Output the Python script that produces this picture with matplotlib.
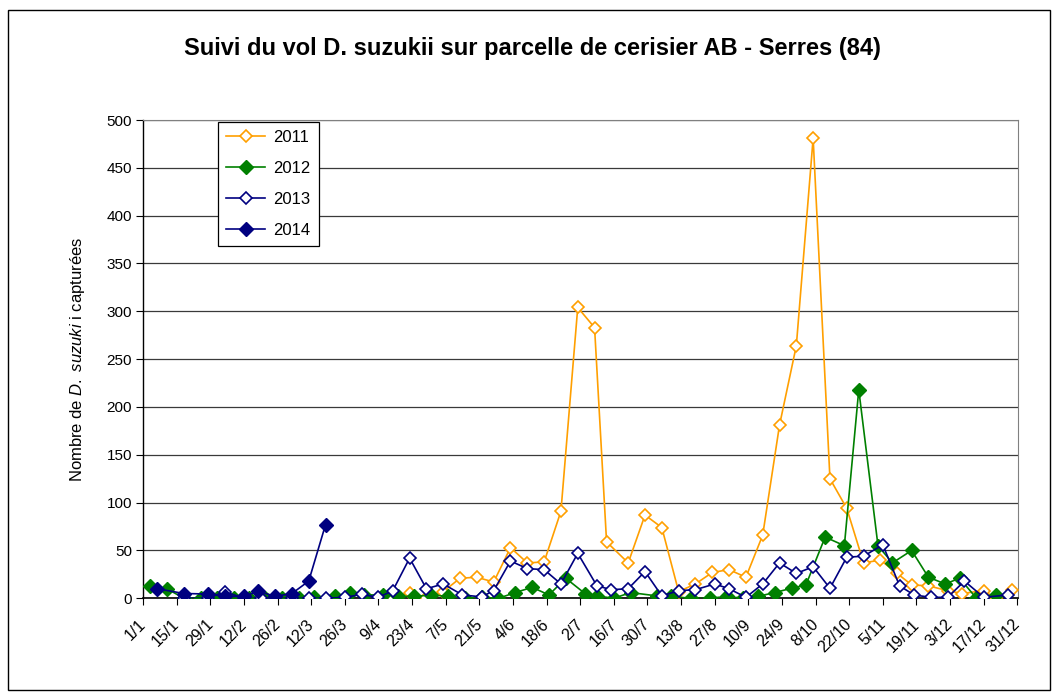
import matplotlib
matplotlib.use("Agg")
import matplotlib.pyplot as plt
from matplotlib.patches import Rectangle
from matplotlib.transforms import ScaledTranslation

plt.rcParams['font.family'] = ['Liberation Sans', 'DejaVu Sans']
plt.rcParams['mathtext.fontset'] = 'custom'
plt.rcParams['mathtext.rm'] = 'Liberation Sans'
plt.rcParams['mathtext.it'] = 'Liberation Sans:italic'

# x = days since 1 January
tick_labels = ["1/1", "15/1", "29/1", "12/2", "26/2", "12/3", "26/3", "9/4", "23/4",
               "7/5", "21/5", "4/6", "18/6", "2/7", "16/7", "30/7", "13/8", "27/8",
               "10/9", "24/9", "8/10", "22/10", "5/11", "19/11", "3/12", "17/12", "31/12"]
tick_days = [14 * i for i in range(len(tick_labels))]

days_2011 = [104, 111, 118, 125, 132, 139, 146, 153, 160, 167, 174, 181, 188, 193, 202,
             209, 216, 223, 230, 237, 244, 251, 258, 265, 272, 279, 286, 293, 300, 307,
             314, 320, 327, 335, 341, 350, 355, 362]
vals_2011 = [0, 6, 0, 7, 21, 22, 17, 53, 37, 38, 91, 304, 283, 59, 37,
             87, 74, 7, 15, 27, 30, 22, 66, 181, 264, 481, 125, 94, 37, 40,
             26, 14, 13, 8, 5, 8, 0, 9]

days_2012 = [3, 10, 17, 24, 31, 38, 44, 51, 58, 65, 71, 80, 86, 92, 100, 106, 113, 120,
             127, 134, 141, 148, 155, 162, 169, 176, 184, 189, 196, 203, 214, 220, 228,
             236, 243, 250, 256, 263, 270, 276, 284, 292, 298, 306, 312, 320, 327, 334,
             340, 347, 355]
vals_2012 = [13, 10, 0, 0, 0, 0, 0, 0, 0, 0, 1, 2, 6, 3.5, 3.5, 2, 2, 3.5,
             2, 0, 1, 0, 6, 11.5, 3.5, 21, 5, 2.5, 0, 6, 2.5, 2, 0,
             0, 2, 0, 2, 6, 10.5, 14, 64, 55, 218, 55, 37, 50, 22, 15,
             21, 0, 3.5]

days_2013 = [17, 27, 34, 42, 49, 55, 62, 69, 76, 84, 91, 98, 104, 111, 118, 125, 133,
             141, 146, 153, 160, 167, 174, 181, 189, 195, 202, 209, 216, 223, 230, 238,
             244, 251, 258, 265, 272, 279, 286, 293, 300, 308, 315, 321, 328, 335, 342,
             350, 360]
vals_2013 = [0, 0, 7, 0, 0, 0, 0, 0, 0, 1, 4, 1, 8, 42, 10, 15, 3.5,
             1.5, 8, 39, 31, 30, 15, 47, 13, 9, 10, 28, 2.5, 8, 9, 15,
             10, 1, 15, 37, 26, 33, 10.5, 43, 44, 56, 13, 3.5, 1, 1, 18,
             1, 3.5]

days_2014 = [6, 17, 27, 34, 42, 48, 55, 62, 69, 76]
vals_2014 = [10, 5, 4.5, 2, 2, 7.5, 2, 5, 18, 77]

ORANGE = '#FF9F00'
GREEN = '#008000'
NAVY = '#000080'

W, H = 1058, 695
fig = plt.figure(figsize=(W / 100, H / 100), dpi=100)
fig.patches.append(Rectangle((8 / W, 5 / H), (1050 - 8) / W, (685 - 5) / H,
                             transform=fig.transFigure, fill=False,
                             edgecolor='black', linewidth=1.0))

ax = fig.add_axes([143 / W, (H - 598.3) / H, (1018.5 - 143) / W, (598.3 - 120) / H])

ax.plot(days_2011, vals_2011, color=ORANGE, lw=1.2, marker='D', ms=6.2,
        mfc='white', mec=ORANGE, mew=1.2, label='2011', zorder=3)
ax.plot(days_2012, vals_2012, color=GREEN, lw=1.2, marker='D', ms=6.8,
        mfc=GREEN, mec=GREEN, label='2012', zorder=4)
ax.plot(days_2013, vals_2013, color=NAVY, lw=1.2, marker='D', ms=6.2,
        mfc='white', mec=NAVY, mew=1.2, label='2013', zorder=5)
ax.plot(days_2014, vals_2014, color=NAVY, lw=1.2, marker='D', ms=6.8,
        mfc=NAVY, mec=NAVY, label='2014', zorder=6)

ax.set_xlim(0, 364.5)
ax.set_ylim(0, 500)
ax.set_yticks(range(0, 501, 50))
ax.set_xticks(tick_days)
ax.set_xticklabels(tick_labels, rotation=45, ha='right', va='top',
                   rotation_mode='anchor')
ax.tick_params(axis='both', direction='out', length=5, width=0.8, colors='black')
ax.tick_params(axis='x', labelsize=11.5, pad=4)
ax.tick_params(axis='y', labelsize=11, pad=3)
off = ScaledTranslation(-5 / 100, -6 / 100, fig.dpi_scale_trans)
for lab in ax.get_xticklabels():
    lab.set_transform(lab.get_transform() + off)

ax.grid(axis='y', color='#3a3a3a', lw=0.9)
ax.set_axisbelow(True)
ax.spines['left'].set_color('black')
ax.spines['bottom'].set_color('black')
ax.spines['left'].set_linewidth(1.0)
ax.spines['bottom'].set_linewidth(1.2)
ax.spines['top'].set_color('#808080')
ax.spines['right'].set_color('#808080')

ax.set_ylabel(r'Nombre de $\mathit{D.\ suzuki}$ i capturées', fontsize=12, labelpad=14)

fig.text(532 / W, 1 - 48 / H,
         'Suivi du vol D. suzukii sur parcelle de cerisier AB - Serres (84)',
         ha='center', va='center', fontsize=17, fontweight='bold')

leg = ax.legend(loc='upper left', bbox_to_anchor=((218 - 143) / 875, (598.3 - 122) / 478.3),
                fontsize=12, frameon=True, fancybox=False, edgecolor='black',
                framealpha=1, handlelength=2.3, labelspacing=0.95, borderpad=0.5,
                handletextpad=0.5, borderaxespad=0)
leg.get_frame().set_linewidth(0.9)

fig.savefig('out.png', dpi=100)
